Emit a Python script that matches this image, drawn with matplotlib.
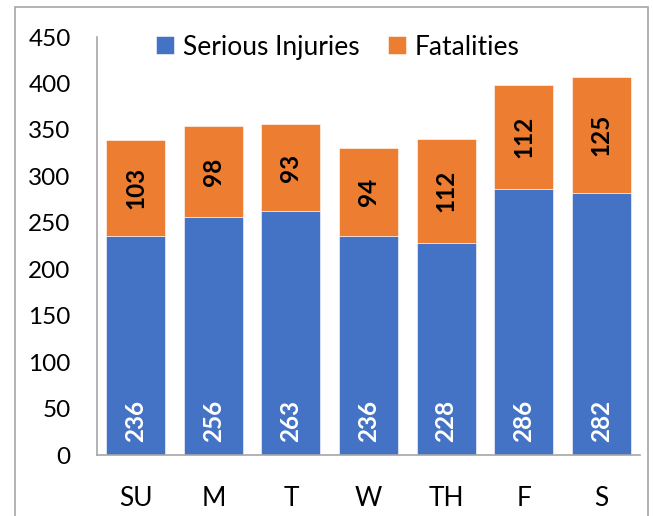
import numpy as np
import matplotlib
matplotlib.use("Agg")
import matplotlib.pyplot as plt
from matplotlib.patches import Rectangle

plt.rcParams["font.family"] = ["Lato", "DejaVu Sans"]

DAYS = ["SU", "M", "T", "W", "TH", "F", "S"]
INJURIES = [236, 256, 263, 236, 228, 286, 282]
FATALITIES = [103, 98, 93, 94, 112, 112, 125]
YTICKS = [0, 50, 100, 150, 200, 250, 300, 350, 400, 450]

BLUE = "#4472C4"
ORANGE = "#ED7D31"


def main():
    fig = plt.figure(figsize=(6.53, 5.16), dpi=100)
    # outer chart-area border (bottom runs off the image)
    fig.patches.append(Rectangle((15 / 653, -0.05), (648 - 15) / 653, 1.05 - 7 / 516,
                                 transform=fig.transFigure, fill=False,
                                 edgecolor="#A6A6A6", linewidth=1.2))
    ax = fig.add_axes([97 / 653, 1 - 455 / 516, (640 - 97) / 653, (455 - 37) / 516])

    x = np.arange(len(DAYS))
    inj = np.array(INJURIES)
    fat = np.array(FATALITIES)
    ax.bar(x, inj, width=0.76, color=BLUE, edgecolor="white", linewidth=0.4,
           label="Serious Injuries")
    ax.bar(x, fat, bottom=inj, width=0.76, color=ORANGE, edgecolor="white",
           linewidth=0.4, label="Fatalities")

    for i in range(len(DAYS)):
        ax.text(x[i], 14, str(inj[i]), rotation=90, ha="center", va="bottom",
                color="white", fontsize=17.5, fontweight="bold")
        ax.text(x[i], inj[i] + fat[i] / 2, str(fat[i]), rotation=90, ha="center",
                va="center", color="black", fontsize=17.5, fontweight="bold")

    ax.set_xlim(-0.5, len(DAYS) - 0.5)
    ax.set_ylim(0, 450)
    ax.set_yticks(YTICKS)
    ax.set_xticks(x)
    ax.set_xticklabels(DAYS)
    ax.tick_params(axis="y", length=0, pad=19, labelsize=17.5)
    ax.tick_params(axis="x", length=0, pad=22, labelsize=19)
    for s in ["top", "right"]:
        ax.spines[s].set_visible(False)
    ax.spines["left"].set_color("#A6A6A6")
    ax.spines["bottom"].set_color("#A6A6A6")
    ax.spines["left"].set_linewidth(1.2)
    ax.spines["bottom"].set_linewidth(1.2)

    ax.legend(loc="center", bbox_to_anchor=(0.444, 0.976), ncol=2, frameon=False,
              fontsize=19, handlelength=0.65, handleheight=0.65, handletextpad=0.35,
              columnspacing=1.1)

    fig.savefig("out.png", dpi=100)
    plt.close(fig)


if __name__ == "__main__":
    main()
